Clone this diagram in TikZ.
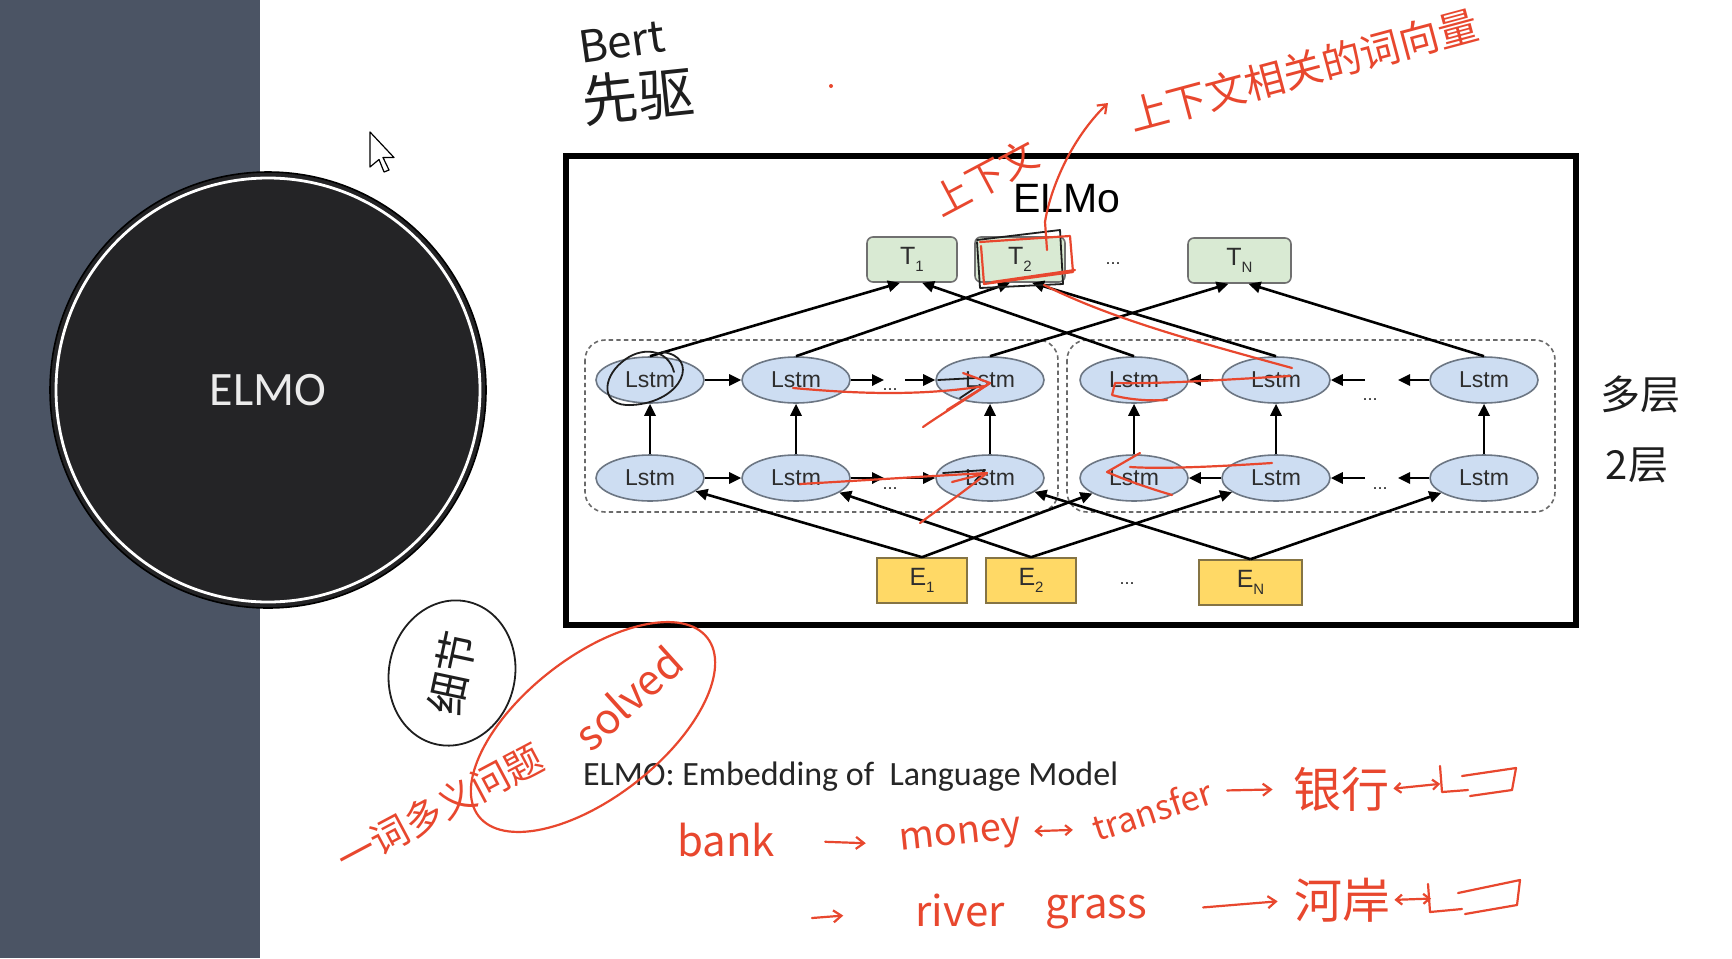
\documentclass[tikz,border=0pt]{standalone}
\usepackage{fontspec}
\setmainfont{Liberation Sans}
\newfontfamily\calib{Carlito}
\newfontfamily\cjk{Noto Sans CJK SC}
\usetikzlibrary{shapes.geometric,arrows.meta,calc}

\definecolor{panel}{HTML}{4B5464}
\definecolor{discfill}{HTML}{242426}
\definecolor{lstmfill}{HTML}{CDDDF2}
\definecolor{lstmedge}{HTML}{6C7683}
\definecolor{tfill}{HTML}{D9EAD3}
\definecolor{boxedge}{HTML}{707070}
\definecolor{efill}{HTML}{FFD966}
\definecolor{eedge}{HTML}{857444}
\definecolor{labelgray}{HTML}{2E2E2E}
\definecolor{groupgray}{HTML}{6A6A6A}
\definecolor{penred}{HTML}{E8472E}
\definecolor{inkblack}{HTML}{1E1E1E}
\definecolor{captext}{HTML}{262626}

\newcommand\lowsub[1]{\raisebox{-0.55ex}{\fontsize{7.5}{8}\selectfont #1}}

\tikzset{
  lstm/.style={ellipse, draw=lstmedge, fill=lstmfill, line width=0.8pt,
    minimum width=54pt, minimum height=23pt, inner sep=0pt,
    font=\fontsize{11.5}{13}\selectfont, text=labelgray},
  tbox/.style={rectangle, rounded corners=3pt, draw=boxedge, fill=tfill,
    line width=0.8pt, minimum width=45pt, minimum height=22.5pt, inner sep=0pt,
    font=\fontsize{12.5}{13}\selectfont, text=labelgray},
  ebox/.style={rectangle, draw=eedge, fill=efill, line width=0.8pt,
    minimum width=45pt, minimum height=22.5pt, inner sep=0pt,
    font=\fontsize{12.5}{13}\selectfont, text=labelgray},
  link/.style={line width=1.3pt, draw=black, -{Triangle[length=6pt,width=5.6pt]}},
  group/.style={draw=groupgray, dash pattern=on 2.2pt off 1.6pt, line width=0.8pt,
    rounded corners=10pt},
  dotsep/.style={font=\fontsize{9}{10}\selectfont, text=labelgray},
  pen/.style={draw=penred, line width=1.1pt, line cap=round, line join=round},
  ink/.style={draw=inkblack, line width=0.9pt, line cap=round, line join=round},
  redhand/.style={text=penred, inner sep=0pt},
  blackhand/.style={text=inkblack, inner sep=0pt},
  penarrow/.style={pen, -{Straight Barb[length=4pt,width=6pt]}},
  penboth/.style={pen, {Straight Barb[length=3pt,width=5pt]}-{Straight Barb[length=3pt,width=5pt]}},
}

\begin{document}
\begin{tikzpicture}[x=0.5pt,y=-0.5pt]
\useasboundingbox (0,0) rectangle (1732,958);
\fill[white] (0,0) rectangle (1732,958);

% left side panel and title disc
\fill[panel] (0,0) rectangle (260,958);
\node[circle, fill=discfill, draw=black, line width=0.8pt, minimum size=218pt,
  inner sep=0pt, text=white!92!black, font=\calib\fontsize{24}{28}\selectfont]
  (elmo) at (268,390) {ELMO};
\draw[white, line width=1.4pt] (elmo.center) circle[radius=212];

% mouse pointer
\filldraw[fill=white, draw=black, line width=0.6pt, line join=round]
  (370,132) -- ++(0,35) -- ++(9,-7.5) -- ++(5,12.5) -- ++(5,-2)
  -- ++(-6,-12.5) -- ++(11,0) -- cycle;

% framed ELMo figure
\draw[black, line width=2.6pt] (566,156) rectangle (1576,625);
\node[font=\fontsize{20.5}{24}\selectfont, text=black] (title) at (1067,199) {ELMo};

% dashed groups: forward and backward LSTM stacks
\draw[group] (585,340) rectangle (1058,512);
\draw[group] (1067,340) rectangle (1555,512);

% output tokens
\node[tbox] (T1) at (912,259.5) {T\lowsub{1}};
\node[tbox] (T2) at (1020,259.5) {T\lowsub{2}};
\node[tbox, minimum width=51.5pt] (TN) at (1239.5,260.5) {T\lowsub{N}};
\node[dotsep] (tdots) at (1113,264) {...};

% input embeddings
\node[ebox] (E1) at (922,580.5) {E\lowsub{1}};
\node[ebox] (E2) at (1031,580.5) {E\lowsub{2}};
\node[ebox, minimum width=51.5pt] (EN) at (1250.5,582.5) {E\lowsub{N}};
\node[dotsep] (edots) at (1127,584) {...};

% forward LSTM cells (row 1 top layer, row 2 bottom layer)
\node[lstm] (f11) at (650,380) {Lstm};
\node[lstm] (f12) at (796,380) {Lstm};
\node[lstm] (f13) at (990,380) {Lstm};
\node[lstm] (f21) at (650,478) {Lstm};
\node[lstm] (f22) at (796,478) {Lstm};
\node[lstm] (f23) at (990,478) {Lstm};
% backward LSTM cells
\node[lstm] (b11) at (1134,380) {Lstm};
\node[lstm] (b12) at (1276,380) {Lstm};
\node[lstm] (b13) at (1484,380) {Lstm};
\node[lstm] (b21) at (1134,478) {Lstm};
\node[lstm] (b22) at (1276,478) {Lstm};
\node[lstm] (b23) at (1484,478) {Lstm};

% free ends of the elided recurrent arrows
\coordinate (fa1) at (884,380);
\coordinate (fb1) at (905,380);
\coordinate (fa2) at (884,478);
\coordinate (fb2) at (905,478);
\coordinate (ba1) at (1365,380);
\coordinate (bb1) at (1398,380);
\coordinate (ba2) at (1365,478);
\coordinate (bb2) at (1398,478);
\node[dotsep] at (890,390) {...};
\node[dotsep] at (890,489) {...};
\node[dotsep] at (1370,400) {...};
\node[dotsep] at (1380,489) {...};

% recurrent connections
\draw[link] (f11) -- (f12);
\draw[link] (f12) -- (fa1);
\draw[link] (fb1) -- (f13);
\draw[link] (f21) -- (f22);
\draw[link] (f22) -- (fa2);
\draw[link] (fb2) -- (f23);
\draw[link] (b12) -- (b11);
\draw[link] (ba1) -- (b12);
\draw[link] (b13) -- (bb1);
\draw[link] (b22) -- (b21);
\draw[link] (ba2) -- (b22);
\draw[link] (b23) -- (bb2);

% layer-to-layer connections
\foreach \c in {1,2,3} {
  \draw[link] (f2\c) -- (f1\c);
  \draw[link] (b2\c) -- (b1\c);
}

% embeddings into both stacks
\draw[link] (E1.north) -- (f21);
\draw[link] (E1.north) -- (b21);
\draw[link] (E2.north) -- (f22);
\draw[link] (E2.north) -- (b22);
\draw[link] (EN.north) -- (f23);
\draw[link] (EN.north) -- (b23);

% top layer into the outputs
\draw[link] (f11.north) -- ($(T1.south)+(-12,0)$);
\draw[link] (b11.north) -- ($(T1.south)+(10,0)$);
\draw[link] (f12.north) -- ($(T2.south)+(-10,0)$);
\draw[link] (b12.north) -- ($(T2.south)+(12,0)$);
\draw[link] (f13.north) -- ($(TN.south)+(-11,0)$);
\draw[link] (b13.north) -- ($(TN.south)+(9,0)$);

% caption
\node[anchor=west, font=\calib\fontsize{17}{20}\selectfont, text=captext]
  (caption) at (576,777) {ELMO: Embedding of\ \ Language Model};

% ---- pen notes in black ----
\node[blackhand, font=\cjk\fontsize{22}{24}\selectfont, rotate=8] (bert) at (622,42) {Bert};
\node[blackhand, font=\cjk\fontsize{28}{30}\selectfont, rotate=6] (pioneer) at (638,96) {先驱};
\node[blackhand, font=\cjk\fontsize{20}{22}\selectfont] (multi) at (1640,394) {多层};
\node[blackhand, font=\cjk\fontsize{20}{22}\selectfont] (two) at (1637,465) {2层};
\node[ellipse, draw=inkblack, line width=0.9pt, minimum width=63pt, minimum height=73pt,
  rotate=-12] (detailring) at (452,673) {};
\node[blackhand, font=\cjk\fontsize{21}{22}\selectfont, rotate=78] (detail) at (452,673) {细节};
% black marks on the figure
\draw[ink] (662,352) .. controls (700,356) and (684,402) .. (632,405)
  .. controls (600,407) and (602,378) .. (622,362)
  .. controls (640,346) and (668,348) .. (674,372);
\draw[ink] (977,240) -- (1060,230) -- (1063,284) -- (980,288) -- (977,242);
\draw[ink] (938,380) -- (975,378);
\draw[ink] (960,398) -- (978,386);
\draw[ink] (943,473) -- (985,470) -- (975,481);

% ---- pen notes in red ----
\fill[penred] (831,86) circle[radius=2];
\node[redhand, font=\cjk\fontsize{19}{20}\selectfont, rotate=28] (updown) at (985,178) {上下文};
\node[redhand, font=\cjk\fontsize{20}{22}\selectfont, rotate=15] (ctxvec) at (1303,70) {上下文相关的词向量};
\draw[penarrow] (1047,250) -- (1045,222) .. controls (1050,190) and (1070,140) .. (1108,103);
\draw[pen] (980,242) -- (1070,236) -- (1073,272) -- (984,284) -- (981,246);
\draw[pen] (992,282) -- (1075,270);
\draw[pen] (1044,285) .. controls (1110,318) and (1190,340) .. (1292,368);
\draw[pen] (793,388) .. controls (860,394) and (920,396) .. (985,386);
\draw[pen] (963,373) -- (990,383) -- (947,410);
\draw[pen] (990,383) .. controls (965,400) and (940,415) .. (923,427);
\draw[pen] (800,484) .. controls (870,480) and (930,476) .. (987,473) -- (952,482);
\draw[pen] (987,473) .. controls (960,495) and (940,508) .. (920,523);
\draw[pen] (1290,376) .. controls (1220,380) and (1160,384) .. (1115,383)
  -- (1112,395) .. controls (1130,400) and (1150,401) .. (1167,400);
\draw[pen] (1272,463) .. controls (1210,467) and (1160,469) .. (1130,467);
\draw[pen] (1140,453) -- (1107,472) .. controls (1130,482) and (1155,490) .. (1172,495);

% problem solved
\node[ellipse, draw=penred, line width=1.1pt, minimum width=145pt, minimum height=70pt,
  rotate=38] (solvedring) at (593,727) {};
\node[redhand, font=\cjk\fontsize{19}{21}\selectfont, rotate=28] (polysemy) at (440,808) {一词多义问题};
\node[redhand, font=\cjk\fontsize{21}{22}\selectfont, rotate=42] (solved) at (628,698) {solved};

% bank / money / river examples
\node[redhand, font=\cjk\fontsize{21}{22}\selectfont] (bank) at (726,840) {bank};
\node[redhand, font=\cjk\fontsize{19}{20}\selectfont, rotate=6] (money) at (961,838) {money};
\node[redhand, font=\cjk\fontsize{17}{18}\selectfont, rotate=18] (transfer) at (1152,810) {transfer};
\node[redhand, font=\cjk\fontsize{24}{26}\selectfont] (yinhang) at (1341,789) {银行};
\coordinate (bill1) at (1478,780);
\draw[pen] (1440,766) -- (1442,792) -- (1468,790);
\draw[pen] (1462,776) -- (1516,768) -- (1512,790) -- (1470,796);
\draw[penarrow, shorten <=25pt, shorten >=17pt] (bank.east) -- (money.west);
\draw[penboth, shorten <=6pt, shorten >=10pt] (money.east) -- (transfer.west);
\draw[penarrow, shorten <=8pt, shorten >=10pt] (transfer.east) -- (yinhang.west);
\draw[penboth, shorten <=2pt, shorten >=19pt] (yinhang.east) -- (bill1);

\coordinate (rowtwo) at (812,918);
\node[redhand, font=\cjk\fontsize{21}{22}\selectfont] (river) at (960,910) {river};
\node[redhand, font=\cjk\fontsize{21}{22}\selectfont] (grass) at (1096,912) {grass};
\node[redhand, font=\cjk\fontsize{24}{26}\selectfont] (hean) at (1342,900) {河岸};
\coordinate (bill2) at (1475,897);
\draw[pen] (1428,884) -- (1430,912) -- (1462,909);
\draw[pen] (1458,893) -- (1520,880) -- (1517,905) -- (1465,914);
\draw[penarrow, shorten >=36pt] (rowtwo) -- (river.west);
\draw[penarrow, shorten <=28pt, shorten >=8pt] (grass.east) -- (hean.west);
\draw[penboth, shorten <=2pt, shorten >=22pt] (hean.east) -- (bill2);
\end{tikzpicture}
\end{document}
